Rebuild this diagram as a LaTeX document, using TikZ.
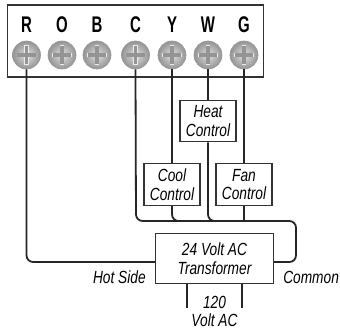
\documentclass[tikz,border=0pt]{standalone}
\usepackage{fontspec}
\setmainfont{Liberation Sans}[FakeStretch=0.78,BoldFeatures={FakeStretch=0.66}]
\usepackage{tikz}
\tikzset{wire/.style={draw=black!85,line width=1.35pt}}
\tikzset{box/.style={draw=black!80,line width=0.9pt,fill=white,inner sep=0pt,align=center,minimum width=42pt,minimum height=31pt,font=\fontsize{13.2}{14}\selectfont\itshape}}
\tikzset{l/.style={font=\fontsize{13.2}{13.5}\selectfont\itshape,inner sep=0pt,align=center}}
\tikzset{m/.style={font=\fontsize{17}{17}\selectfont\bfseries,inner sep=0pt}}
\tikzset{screw/.style={circle,draw=black!40,line width=0.5pt,inner sep=0pt,minimum size=21pt,inner color=black!12,outer color=black!42,
  path picture={
    \draw[black!8,line width=3.6pt] (path picture bounding box.center)+(-7.2pt,0)--+(7.2pt,0);
    \draw[black!8,line width=3.6pt] (path picture bounding box.center)+(0,-7.2pt)--+(0,7.2pt);
    \draw[black!42,line width=2.6pt] (path picture bounding box.center)+(-6.8pt,0)--+(6.8pt,0);
    \draw[black!42,line width=2.6pt] (path picture bounding box.center)+(0,-6.8pt)--+(0,6.8pt);
  }}}
\begin{document}
\begin{tikzpicture}[x=0.75pt,y=-0.75pt]
  \useasboundingbox (0,0) rectangle (340,330);
  \node (board) at (135.5,41) [draw=black!80,line width=0.9pt,inner sep=0pt,minimum width=191.5pt,minimum height=54pt] {};
  % terminals
  \node (lR) at (26.5,25) [m] {R};
  \node (lO) at (62,25) [m] {O};
  \node (lB) at (97,25) [m] {B};
  \node (lC) at (135.5,25) [m] {C};
  \node (lY) at (172,25) [m] {Y};
  \node (lW) at (208,25) [m] {W};
  \node (lG) at (244,25) [m] {G};
  \node (sR) at (26.5,55) [screw] {};
  \node (sO) at (62,55) [screw] {};
  \node (sB) at (97,55) [screw] {};
  \node (sC) at (135.5,55) [screw] {};
  \node (sY) at (172,55) [screw] {};
  \node (sW) at (208,55) [screw] {};
  \node (sG) at (244,55) [screw] {};
  % controls
  \node (heat) at (208,121) [box] {Heat\\Control}
    edge [wire] (sW.south);
  \node (cool) at (172,184.5) [box] {Cool\\Control}
    edge [wire] (sY.south);
  \node (fan) at (244,184.5) [box] {Fan\\Control}
    edge [wire] (sG.south);
  \node (trans) at (214.5,258.5) [box,minimum width=89pt,minimum height=38pt] {24 Volt AC\\Transformer};
  \coordinate (hot) at (155,262);
  \coordinate (com) at (274,262);
  \coordinate (busA) at (136,221);
  \coordinate (busB) at (190,221);
  \coordinate (busC) at (232,221);
  \coordinate (busD) at (244,221);
  \coordinate (busE) at (296,221);
  \coordinate (lineA) at (187,308);
  \coordinate (lineB) at (242,308);
  % wiring
  \draw[wire,rounded corners=5pt] (sR.south) |- (hot);
  \draw[wire,rounded corners=5pt] (sC.south) -- (busA) -- (busE) |- (com);
  \draw[wire,rounded corners=5pt] (cool.south) |- (busB);
  \draw[wire,rounded corners=5pt] (heat.south) |- (busC);
  \draw[wire] (fan.south) -- (busD);
  \draw[wire] (lineA) -- (lineA |- trans.south);
  \draw[wire] (lineB) -- (lineB |- trans.south);
  % labels
  \node (hotl) at (146,277) [l,anchor=east] {Hot Side};
  \node (coml) at (283,277) [l,anchor=west] {Common};
  \node (volt) at (214.5,311.5) [l] {120\\Volt AC};
\end{tikzpicture}
\end{document}
